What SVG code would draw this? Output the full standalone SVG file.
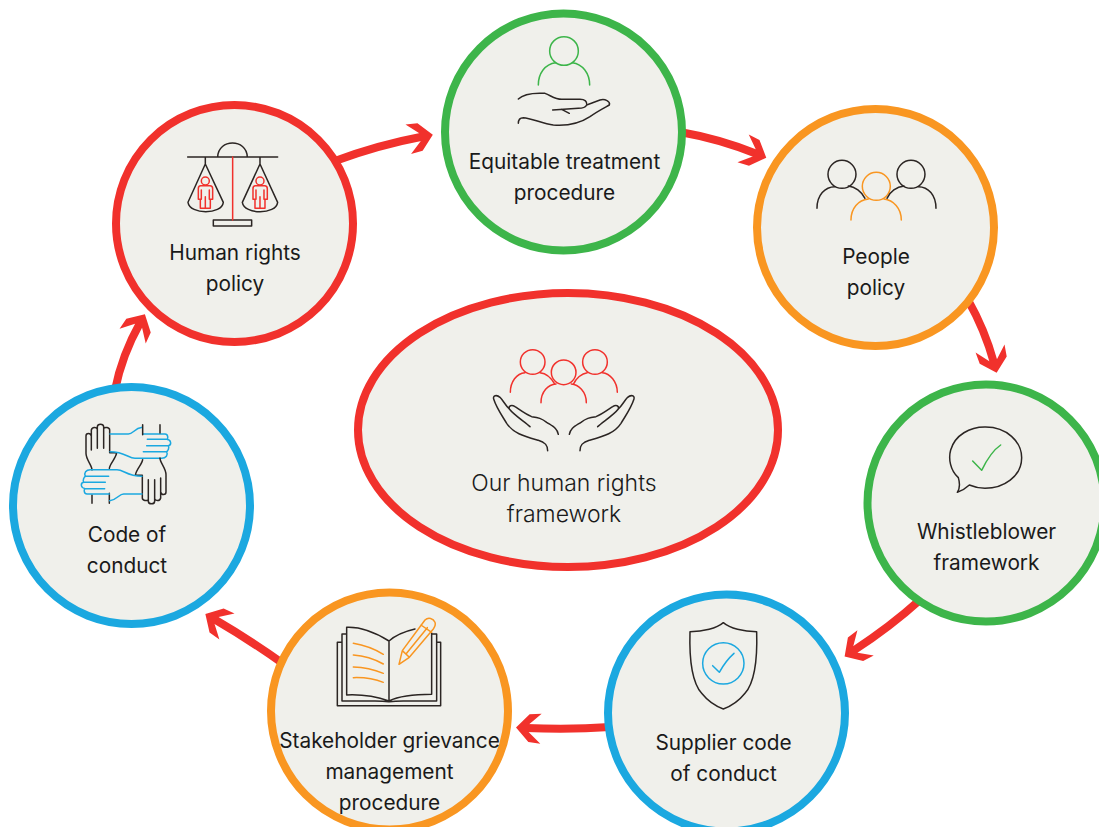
<svg xmlns="http://www.w3.org/2000/svg" width="1099" height="827" viewBox="0 0 1099 827">
<style>
.n{fill:#f0f0eb;stroke-width:8}
.r{stroke:#f1312c}.g{stroke:#3db54a}.o{stroke:#f99621}.b{stroke:#1ba8e0}
.t{font-family:Inter,"Liberation Sans",sans-serif;font-size:20.8px;fill:#1a1a1a;text-anchor:middle}
.c{font-size:23px;font-weight:300}
.i{fill:none;stroke-width:4.5;stroke-linecap:round;stroke-linejoin:round}
.k{stroke:#2b2523}
.a{fill:none;stroke:#f1312c;stroke-width:8;marker-end:url(#h)}
</style>
<defs>
<marker id="h" markerUnits="userSpaceOnUse" viewBox="-30 -20 40 40" markerWidth="40" markerHeight="40" refX="-10" refY="0" orient="auto">
<path d="M0,0L-13,-14L-25,-15L-13,-4V4L-25,15L-13,14Z" fill="#f1312c"/>
</marker>
</defs>
<g id="connectors">
<path class="a" d="M335,161Q378,145 423,136.5"/>
<path class="a" d="M680,132Q720,139 757,154"/>
<path class="a" d="M968,300Q985,330 994,363"/>
<path class="a" d="M921,599Q890,627 853,651"/>
<path class="a" d="M610,727Q570,730 526,728"/>
<path class="a" d="M285,665Q250,640 214,619"/>
<path class="a" d="M115,390Q122,355 140,323"/>
</g>
<g id="node-human-rights">
<circle class="n r" cx="234.500" cy="223.500" r="118.500"/>
<g class="i" transform="translate(110 20) scale(.3333)">
<path class="k" d="M233,411H503M323,411C325,355 410,355 412,411M286,411V432L340,547C335,585 240,585 234,547L286,432M450,411V432L503,547C498,585 403,585 397,547L450,432"/>
<path class="k" d="M310,600H425V618H310Z"/>
<path class="r" d="M368,411V600"/>
<g class="r"><g id="pp"><circle cx="286" cy="483" r="12"/><path d="M272,497H300Q308,497 308,506V538H301V565H271V538H265V506Q265,497 272,497ZM274,510V538M298,510V538M286,530V565"/></g><use href="#pp" x="164"/></g>
</g>
<text class="t" x="235" y="260">Human rights</text><text class="t" x="235" y="291">policy</text>
</g>
<g id="node-equitable">
<circle class="n g" cx="563.500" cy="132" r="118.500"/>
<g class="i" transform="translate(490 20) scale(.3333)">
<circle class="g" cx="222" cy="93" r="43"/>
<path class="g" d="M145,195C145,160 165,132 197,128M299,195C299,160 278,132 247,128"/>
<path class="k" d="M85,237C100,222 130,218 165,220C185,228 195,238 215,238H270C285,238 292,245 290,255C285,265 275,265 265,265L188,270M215,268L238,280M290,255L330,240C345,235 362,245 358,255C340,265 320,275 300,290C270,310 230,318 190,315C160,312 125,295 100,293C90,293 85,300 85,310"/>
</g>
<text class="t" x="564.500" y="169">Equitable treatment</text><text class="t" x="564.500" y="200">procedure</text>
</g>
<g id="node-people">
<circle class="n o" cx="875.500" cy="227.500" r="118.500"/>
<g class="i" transform="translate(680 120) scale(.3333)">
<circle class="k" cx="486" cy="163" r="42"/><circle class="k" cx="693" cy="163" r="42"/>
<circle class="o" cx="589" cy="199" r="42"/>
<path class="k" d="M411,265C411,225 435,200 465,200M505,198C525,200 545,215 555,235M768,265C768,225 745,200 715,200M672,198C650,200 630,215 621,235"/>
<path class="o" d="M513,300C513,265 535,240 565,237M664,300C664,265 640,240 612,237"/>
</g>
<text class="t" x="876" y="264">People</text><text class="t" x="876" y="295">policy</text>
</g>
<g id="node-whistleblower">
<circle class="n g" cx="986" cy="503" r="118.500"/>
<g class="i" transform="translate(930 415) scale(.3333)">
<path class="k" d="M85,188C60,165 55,130 62,105C75,60 120,35 167,36C230,36 275,80 275,128C275,185 220,220 165,220C150,220 130,215 118,210C105,222 95,228 82,232C90,220 90,205 85,188Z"/>
<path class="g" d="M128,138L155,166C170,135 190,105 212,90"/>
</g>
<text class="t" x="986.500" y="539">Whistleblower</text><text class="t" x="986.500" y="570">framework</text>
</g>
<g id="node-supplier">
<circle class="n b" cx="726.500" cy="713" r="118.500"/>
<g class="i" transform="translate(670 610) scale(.3333)">
<path class="k" d="M160,38C140,55 100,65 60,65C58,130 60,210 95,250C115,275 140,290 160,297C180,290 205,275 225,250C260,210 262,130 260,65C220,65 180,55 160,38Z"/>
<circle class="b" cx="160" cy="160" r="62"/>
<path class="b" d="M128,167L148,187C160,165 175,145 192,130"/>
</g>
<text class="t" x="723.500" y="750">Supplier code</text><text class="t" x="723.500" y="781">of conduct</text>
</g>
<g id="node-stakeholder">
<circle class="n o" cx="389.500" cy="711" r="118.500"/>
<g class="i" transform="translate(320 605) scale(.3333)">
<path class="k" d="M207,108V288M207,108C170,85 125,65 80,67V270C125,268 170,275 207,288M207,108C225,92 250,80 285,72M335,85V268C290,268 240,272 207,288M80,87H66V288H165Q190,288 207,290Q225,288 250,288H350V87H335M66,112H52V302H362V112H350"/>
<path class="o" d="M100,115C130,120 165,133 190,148M100,150C130,152 165,163 190,177M100,186C130,187 165,195 190,205M100,218C130,217 165,222 190,232"/>
<path class="o" d="M237,178L247,137L315,45C325,35 340,40 345,52C348,60 345,65 340,72L268,157ZM247,137L268,157M258,147L322,68M303,60L335,82"/>
</g>
<text class="t" x="389.500" y="748">Stakeholder grievance</text><text class="t" x="389.500" y="779">management</text><text class="t" x="389.500" y="810">procedure</text>
</g>
<g id="node-code">
<circle class="n b" cx="131.500" cy="505.500" r="118.500"/>
<g class="i" transform="translate(60 410) scale(.3333)">
<g id="hh">
<path class="k" d="M96,255V280M148,250V280M96,180C96,165 78,150 78,130V78C78,68 92,68 94,78V120M94,78V60C96,50 110,50 112,58V115M112,58V50C113,40 130,40 131,50V115M131,55C135,50 149,52 149,60V128H170C168,145 150,160 148,175"/>
<path class="b" d="M150,72H205C220,72 222,55 247,52M248,72H315C325,72 325,88 320,88H262M320,88C335,90 335,105 325,107H260M325,107C328,112 325,125 318,125H250M320,125C325,135 318,145 305,145H225C205,145 195,125 150,125"/>
</g>
<use href="#hh" transform="rotate(180 198 162)"/>
</g>
<text class="t" x="127" y="542">Code of</text><text class="t" x="127" y="573">conduct</text>
</g>
<g id="node-center">
<ellipse class="n r" cx="568" cy="430" rx="210" ry="137"/>
<g class="i" transform="translate(470 335) scale(.3333)">
<circle class="r" cx="188" cy="81" r="37"/><circle class="r" cx="375" cy="81" r="37"/><circle class="r" cx="281" cy="112" r="37"/>
<path class="r" d="M121,172C121,140 140,115 165,113M210,113C230,115 245,130 255,148M442,172C442,140 420,115 397,113M352,113C335,115 318,130 310,148M213,203C213,170 235,148 258,147M349,203C349,170 325,148 304,147"/>
<path id="ch" class="k" d="M233,347C233,330 225,322 205,316C160,303 130,295 110,265C95,240 80,220 71,192C68,182 80,178 90,187C100,197 105,210 118,222C115,212 125,208 135,215C150,225 170,240 185,245C205,248 215,250 230,262C250,275 262,280 265,298M118,222C130,238 160,258 180,275"/>
<use href="#ch" transform="translate(563 0) scale(-1 1)"/>
</g>
<text class="t c" x="564" y="491">Our human rights</text><text class="t c" x="564" y="522">framework</text>
</g>
</svg>
